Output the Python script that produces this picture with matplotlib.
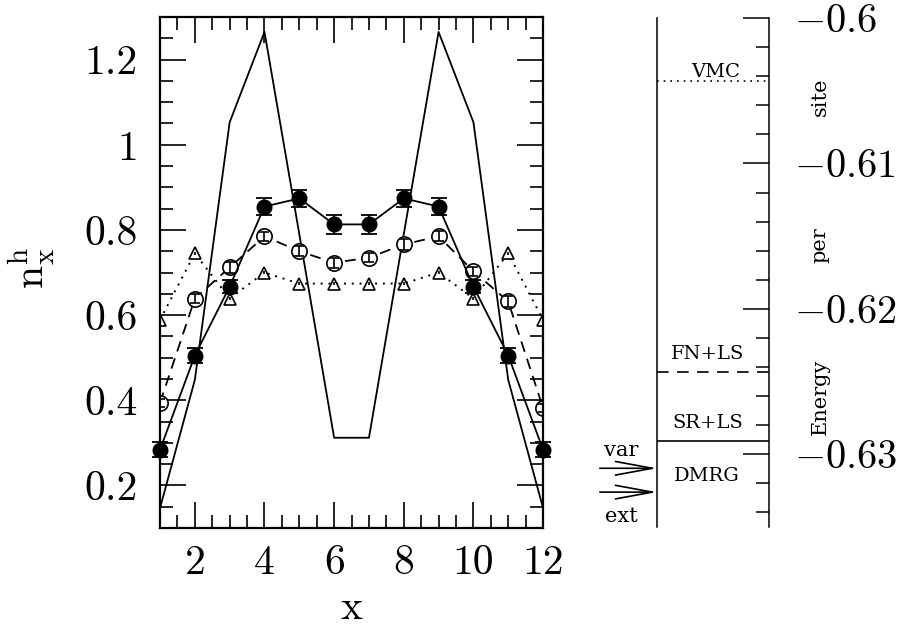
import matplotlib
matplotlib.use("Agg")
import matplotlib.pyplot as plt
import matplotlib.transforms as mtransforms
from matplotlib.ticker import MultipleLocator

plt.rcParams['font.family'] = 'serif'
plt.rcParams['font.serif'] = ['cmr10']
plt.rcParams['mathtext.fontset'] = 'cm'
plt.rcParams['axes.formatter.use_mathtext'] = True

# hole density profile n_x^h along the ladder
sites = [1, 2, 3, 4, 5, 6, 7, 8, 9, 10, 11, 12]
n_line = [0.147, 0.448, 1.053, 1.265, 0.79, 0.312, 0.312, 0.79, 1.265, 1.053, 0.448, 0.147]
n_filled = [0.284, 0.505, 0.667, 0.855, 0.874, 0.813, 0.813, 0.874, 0.855, 0.667, 0.505, 0.284]
err_filled = [0.018, 0.018, 0.015, 0.02, 0.02, 0.023, 0.023, 0.02, 0.02, 0.015, 0.018, 0.018]
n_open = [0.394, 0.639, 0.712, 0.785, 0.750, 0.723, 0.735, 0.766, 0.785, 0.703, 0.632, 0.382]
err_open = [0.01, 0.01, 0.012, 0.01, 0.012, 0.012, 0.01, 0.012, 0.012, 0.01, 0.012, 0.01]
n_tri = [0.589, 0.745, 0.639, 0.700, 0.674, 0.674, 0.674, 0.674, 0.700, 0.639, 0.745, 0.589]

xticks = [2, 4, 6, 8, 10, 12]
xticklabels = ['2', '4', '6', '8', '10', '12']
yticks = [0.2, 0.4, 0.6, 0.8, 1.0, 1.2]
yticklabels = ['0.2', '0.4', '0.6', '0.8', '1', '1.2']

# energies per site
methods = ['VMC', 'FN+LS', 'SR+LS']
energies = [-0.60432, -0.62432, -0.62911]
styles = [(0, (1, 3)), (0, (7, 5)), '-']
dmrg_label = 'DMRG'
dmrg_arrows = ['var', 'ext']
dmrg_energies = [-0.63096, -0.63260]
eticks = [-0.6, -0.61, -0.62, -0.63]
eticklabels = [r'$-0.6$', r'$-0.61$', r'$-0.62$', r'$-0.63$']

fig = plt.figure(figsize=(9.15, 6.26), dpi=100)

# ---- left panel ----
ax = fig.add_axes([0.1749, 0.1565, 0.4186, 0.8163])
ax.plot(sites, n_line, 'k-', lw=1.3)
ax.plot(sites, n_tri, color='k', ls=(0, (1, 3)), lw=1.4, marker='^',
        ms=9, mfc='white', mec='k', mew=1.2)
ax.errorbar(sites, n_tri, yerr=0.003, fmt='none', ecolor='k', elinewidth=1.2, zorder=3)
ax.plot(sites, n_open, color='k', ls=(0, (6, 4)), lw=1.3, marker='o',
        ms=11, mfc='white', mec='k', mew=1.2)
ax.errorbar(sites, n_open, yerr=err_open, fmt='none', ecolor='k',
            elinewidth=1.2, capsize=3.5, capthick=1.2, zorder=3)
ax.errorbar(sites, n_filled, yerr=err_filled, fmt='o-', color='k', ms=10.5,
            lw=1.3, elinewidth=1.3, capsize=5.5, capthick=1.3, clip_on=False, zorder=4)

ax.set_xlim(1, 12)
ax.set_ylim(0.1, 1.3)
ax.set_xticks(xticks)
ax.set_xticklabels(xticklabels)
ax.set_yticks(yticks)
ax.set_yticklabels(yticklabels)
ax.xaxis.set_minor_locator(MultipleLocator(0.5))
ax.yaxis.set_minor_locator(MultipleLocator(0.05))
ax.tick_params(which='both', direction='in', top=True, right=True, width=1.2)
ax.tick_params(which='major', length=18.5, labelsize=30)
ax.tick_params(axis='x', which='major', pad=12)
ax.tick_params(axis='y', which='major', pad=16)
ax.tick_params(which='minor', length=9.3)
for s in ax.spines.values():
    s.set_linewidth(1.6)
ax.set_xlabel('x', fontsize=30)
ax.xaxis.set_label_coords(0.5, -0.12)
ax.set_ylabel(r'$\mathrm{n}^{\mathrm{h}}_{\mathrm{x}}$', fontsize=30)
ax.yaxis.set_label_coords(-0.27, 0.51)

# ---- right panel ----
ax2 = fig.add_axes([0.7180, 0.1581, 0.1224, 0.8131])
ax2.set_xlim(0, 1)
ax2.set_ylim(-0.635, -0.6)
ax2.spines['top'].set_visible(False)
ax2.spines['bottom'].set_visible(False)
ax2.spines['left'].set_linewidth(1.1)
ax2.spines['right'].set_linewidth(1.1)
ax2.set_xticks([])
ax2.yaxis.tick_right()
ax2.set_yticks(eticks)
ax2.set_yticklabels(eticklabels)
ax2.yaxis.set_minor_locator(MultipleLocator(0.002))
ax2.tick_params(axis='y', which='both', direction='in', left=False, right=True, width=1.1)
ax2.tick_params(axis='y', which='major', length=18.5, labelsize=29, pad=18)
ax2.tick_params(axis='y', which='minor', length=9.3)

trans = mtransforms.blended_transform_factory(ax2.transAxes, ax2.transData)
text_y = [-0.6037, -0.62308, -0.62788]
text_x = [0.52, 0.455, 0.455]
for m, e, ls, tx, ty in zip(methods, energies, styles, text_x, text_y):
    ax2.axhline(e, color='k', ls=ls, lw=1.2)
    ax2.text(tx, ty, m, transform=trans, ha='center', va='center',
             fontsize=14, family='DejaVu Serif')
ax2.text(0.447, -0.63151, dmrg_label, transform=trans, ha='center', va='center',
         fontsize=14, family='DejaVu Serif')

label_y = [-0.62973, -0.63425]
for lab, e, ly in zip(dmrg_arrows, dmrg_energies, label_y):
    ax2.annotate('', xy=(0, e), xytext=(-0.51, e), xycoords=trans, textcoords=trans,
                 arrowprops=dict(arrowstyle='->,head_length=1.9,head_width=0.35',
                                 color='k', lw=1.2, shrinkA=0, shrinkB=0,
                                 mutation_scale=14), annotation_clip=False)
    ax2.text(-0.32, ly, lab, transform=trans, ha='center', va='center',
             fontsize=15, family='DejaVu Serif', clip_on=False)

for word, wy in zip(['Energy', 'per', 'site'], [0.255, 0.554, 0.845]):
    ax2.text(1.455, wy, word, transform=ax2.transAxes, rotation=90,
             ha='center', va='center', fontsize=15, family='DejaVu Serif')

fig.savefig('out.png', dpi=100)
